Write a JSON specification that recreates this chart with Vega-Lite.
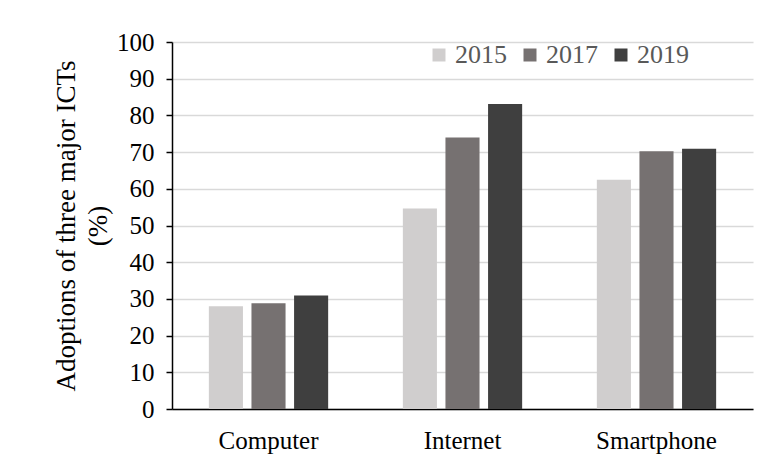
{
  "$schema": "https://vega.github.io/schema/vega-lite/v6.json",
  "autosize": "none",
  "width": 581,
  "height": 367,
  "padding": {"left": 172, "top": 42, "right": 16, "bottom": 57},
  "background": "white",
  "data": {
    "values": [
      {"item": "Computer", "year": "2015", "value": 28.0},
      {"item": "Computer", "year": "2017", "value": 28.8},
      {"item": "Computer", "year": "2019", "value": 30.9},
      {"item": "Internet", "year": "2015", "value": 54.6},
      {"item": "Internet", "year": "2017", "value": 74.0},
      {"item": "Internet", "year": "2019", "value": 83.1},
      {"item": "Smartphone", "year": "2015", "value": 62.5},
      {"item": "Smartphone", "year": "2017", "value": 70.2},
      {"item": "Smartphone", "year": "2019", "value": 70.9}
    ]
  },
  "mark": {"type": "bar"},
  "encoding": {
    "x": {
      "field": "item",
      "type": "nominal",
      "sort": ["Computer", "Internet", "Smartphone"],
      "scale": {"paddingInner": 0.385, "paddingOuter": 0.19},
      "axis": {
        "title": null,
        "labelAngle": 0,
        "labelFont": "Liberation Serif",
        "labelFontSize": 25,
        "labelColor": "#000000",
        "labelPadding": 19,
        "ticks": false,
        "domainColor": "#000000",
        "domainWidth": 1.5,
        "grid": false
      }
    },
    "xOffset": {
      "field": "year",
      "type": "nominal",
      "scale": {"paddingInner": 0.2, "paddingOuter": 0}
    },
    "y": {
      "field": "value",
      "type": "quantitative",
      "scale": {"domain": [0, 100], "nice": false},
      "axis": {
        "title": ["Adoptions of three major ICTs", "(%)"],
        "titleFont": "Liberation Serif",
        "titleFontSize": 27,
        "titleFontWeight": "normal",
        "titleColor": "#000000",
        "titleLineHeight": 32,
        "titlePadding": 4,
        "values": [0, 10, 20, 30, 40, 50, 60, 70, 80, 90, 100],
        "labelFont": "Liberation Serif",
        "labelFontSize": 25,
        "labelColor": "#000000",
        "labelPadding": 12,
        "tickColor": "#000000",
        "tickSize": 6,
        "tickWidth": 1.5,
        "domainColor": "#000000",
        "domainWidth": 1.5,
        "grid": true,
        "gridColor": "#d9d9d9",
        "gridWidth": 1.5
      }
    },
    "color": {
      "field": "year",
      "type": "nominal",
      "scale": {"domain": ["2015", "2017", "2019"], "range": ["#d0cece", "#767171", "#3f3f3f"]},
      "legend": {
        "title": null,
        "orient": "none",
        "legendX": 254,
        "legendY": 0,
        "direction": "horizontal",
        "symbolType": "square",
        "symbolSize": 169,
        "symbolStrokeWidth": 0,
        "labelFont": "Liberation Serif",
        "labelFontSize": 26,
        "labelColor": "#595959",
        "labelOffset": 3,
        "columnPadding": 10
      }
    }
  },
  "config": {
    "view": {"stroke": null}
  }
}
